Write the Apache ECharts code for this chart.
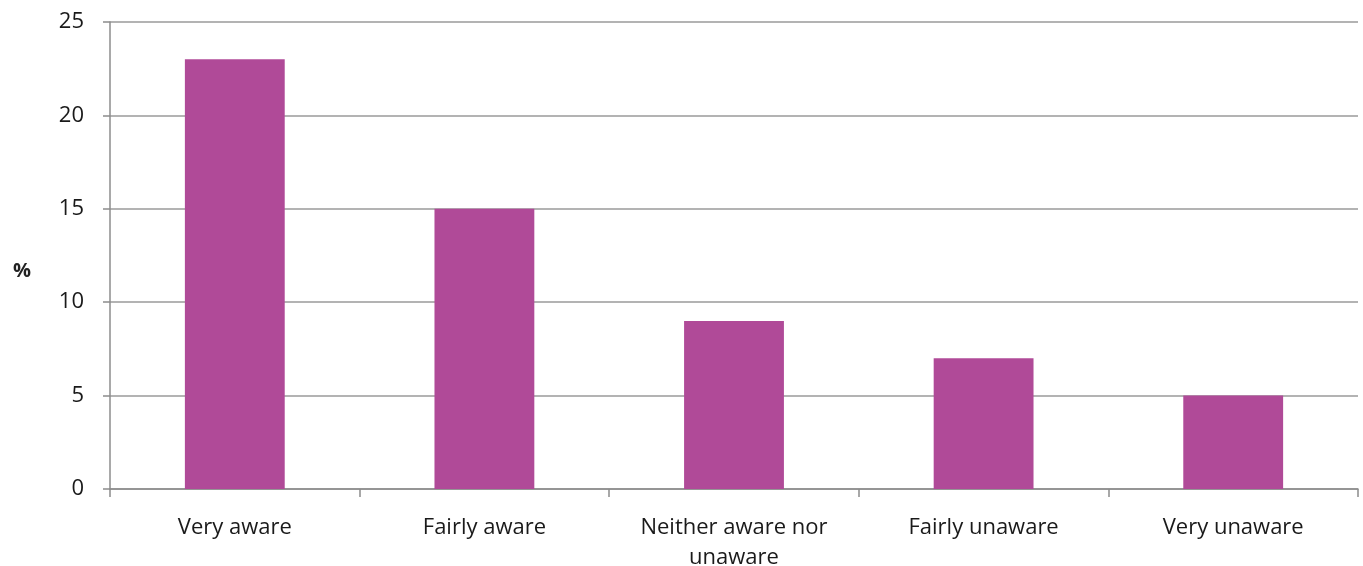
<!DOCTYPE html>
<html><head><meta charset="utf-8">
<script src="https://cdn.jsdelivr.net/npm/echarts@6/dist/echarts.min.js"></script>
<style>html,body{margin:0;padding:0;background:#fff}#c{width:1363px;height:566px}</style>
</head><body><div id="c"></div>
<script>
const categories = ["Very aware", "Fairly aware", "Neither aware nor\nunaware", "Fairly unaware", "Very unaware"];
const values = [23, 15, 9, 7, 5];
const yTicks = [0, 5, 10, 15, 20, 25];

const chart = echarts.init(document.getElementById('c'));
chart.setOption({
  animation: false,
  backgroundColor: '#fff',
  grid: { left: 110, right: 5, top: 22, bottom: 77, containLabel: false, outerBoundsMode: 'none' },
  graphic: [{ type: 'text', left: 13, top: 261, style: { text: '%', font: 'bold 20px "Open Sans"', fill: '#222' } }],
  xAxis: {
    type: 'category', data: categories,
    axisLine: { lineStyle: { color: '#8c8c8c', width: 1.5 } },
    axisTick: { show: true, length: 8, alignWithLabel: false, lineStyle: { color: '#8c8c8c', width: 1.5 } },
    axisLabel: { color: '#1a1a1a', fontFamily: 'Open Sans', fontSize: 22, margin: 24, lineHeight: 30, interval: 0 }
  },
  yAxis: {
    type: 'value', min: yTicks[0], max: yTicks[yTicks.length - 1], interval: 5,
    axisLine: { show: true, lineStyle: { color: '#8c8c8c', width: 1.5 } },
    axisTick: { show: true, length: 7, inside: false, lineStyle: { color: '#8c8c8c', width: 1.5 } },
    axisLabel: { color: '#1a1a1a', fontFamily: 'Open Sans', fontSize: 22, margin: 26 },
    splitLine: { lineStyle: { color: '#9a9a9a', width: 1.5 } }
  },
  series: [{ type: 'bar', data: values, barWidth: '40%', itemStyle: { color: '#B04A98' } }]
});
</script></body></html>
